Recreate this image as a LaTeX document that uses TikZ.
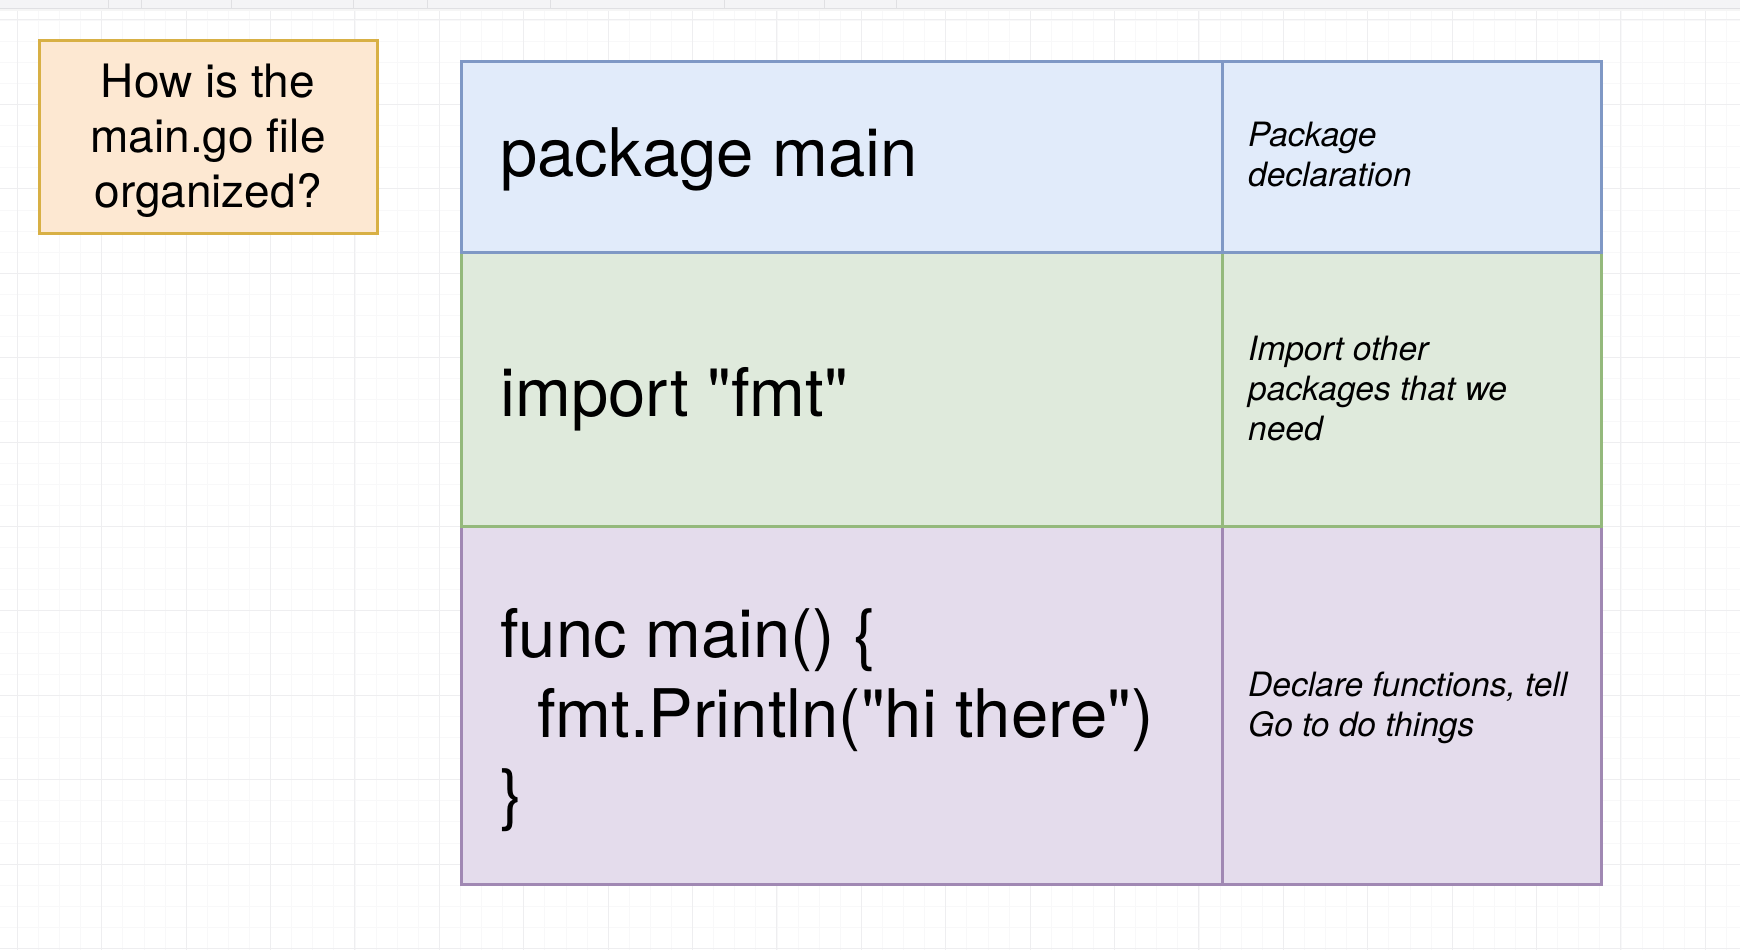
\documentclass[tikz,border=0pt]{standalone}
\usepackage{fontspec}
\setmainfont{TeX Gyre Heros}[Ligatures=TeXOff]
\definecolor{bluefill}{HTML}{E1EBFA}
\definecolor{blueline}{HTML}{7F98C5}
\definecolor{greenfill}{HTML}{DFEADC}
\definecolor{greenline}{HTML}{94B97C}
\definecolor{purplefill}{HTML}{E4DCEC}
\definecolor{purpleline}{HTML}{A088B3}
\definecolor{orangefill}{HTML}{FDE8D2}
\definecolor{orangeline}{HTML}{D8B045}
\definecolor{gridmajor}{HTML}{EEEEF0}
\definecolor{gridminor}{HTML}{F8F8F9}
\definecolor{barfill}{HTML}{F4F4F6}
\definecolor{barline}{HTML}{E0E0E3}
\begin{document}
\begin{tikzpicture}[x=1pt,y=-1pt,
  cell/.style={rectangle, line width=3pt, inner sep=0pt, outer sep=0pt, anchor=north west},
  code/.style={anchor=base west, inner sep=0pt, font=\fontsize{67}{80}\selectfont},
  note/.style={anchor=base west, inner sep=0pt, font=\fontsize{33.5}{40}\selectfont\itshape},
  ask/.style={anchor=base, inner sep=0pt, font=\fontsize{46}{55}\selectfont}]
\useasboundingbox (0,0) rectangle (1740,950);
\fill[white] (0,0) rectangle (1740,950);

% canvas grid: minor lines, then major lines every fourth
\foreach \k in {0,...,82} {
  \draw[gridminor, line width=0.8pt] ({17.3+21.1*\k},9) -- ({17.3+21.1*\k},950);
}
\foreach \k in {0,...,44} {
  \draw[gridminor, line width=0.8pt] (0,{20+21.1*\k}) -- (1740,{20+21.1*\k});
}
\foreach \k in {0,...,20} {
  \draw[gridmajor, line width=1pt] ({17.3+84.4*\k},9) -- ({17.3+84.4*\k},950);
}
\foreach \k in {0,...,11} {
  \draw[gridmajor, line width=1pt] (0,{20+84.4*\k}) -- (1740,{20+84.4*\k});
}

% toolbar strip along the top edge
\fill[barfill] (0,0) rectangle (1740,8);
\draw[barline, line width=1.5pt] (0,8.5) -- (1740,8.5);
\fill[black!4] (0,9.3) rectangle (1740,11);
\foreach \x in {108,141,231,353,427,550,724,824,896} {
  \draw[barline, line width=0.8pt] (\x,0) -- (\x,8);
}

% question box
\node[cell, fill=orangefill, draw=orangeline, minimum width=338pt, minimum height=192pt] (askbox) at (39,41) {};
\node[ask] (q1) at (208,97) {How is the};
\node[ask] (q2) at (208,152) {main.go file};
\node[ask] (q3) at (208,207) {organized?};

% file layout table, bottom row first so upper borders lie on top
\node[cell, fill=purplefill, draw=purpleline, minimum width=760.5pt, minimum height=358pt] (funcL) at (461.5,526) {};
\node[cell, fill=purplefill, draw=purpleline, minimum width=379pt, minimum height=358pt] (funcR) at (1222,526) {};
\node[cell, fill=greenfill, draw=greenline, minimum width=760.5pt, minimum height=274pt] (impL) at (461.5,252) {};
\node[cell, fill=greenfill, draw=greenline, minimum width=379pt, minimum height=274pt] (impR) at (1222,252) {};
\node[cell, fill=bluefill, draw=blueline, minimum width=760.5pt, minimum height=190pt] (pkgL) at (461.5,62) {};
\node[cell, fill=bluefill, draw=blueline, minimum width=379pt, minimum height=190pt] (pkgR) at (1222,62) {};

% code column
\node[code] (pkg) at (500,176) {package main};
\node[code] (imp) at (500,416) {import "fmt"};
\node[code] (fn1) at (500,657) {func main() \{};
\node[code] (fn2) at (537,737) {fmt.Println("hi there")};
\node[code] (fn3) at (500,817) {\}};

% description column
\node[note] (n1a) at (1248,146) {Package};
\node[note] (n1b) at (1248,186) {declaration};
\node[note] (n2a) at (1248,360) {Import other};
\node[note] (n2b) at (1248,400) {packages that we};
\node[note] (n2c) at (1248,440) {need};
\node[note] (n3a) at (1248,696) {Declare functions, tell};
\node[note] (n3b) at (1248,736) {Go to do things};
\end{tikzpicture}
\end{document}
